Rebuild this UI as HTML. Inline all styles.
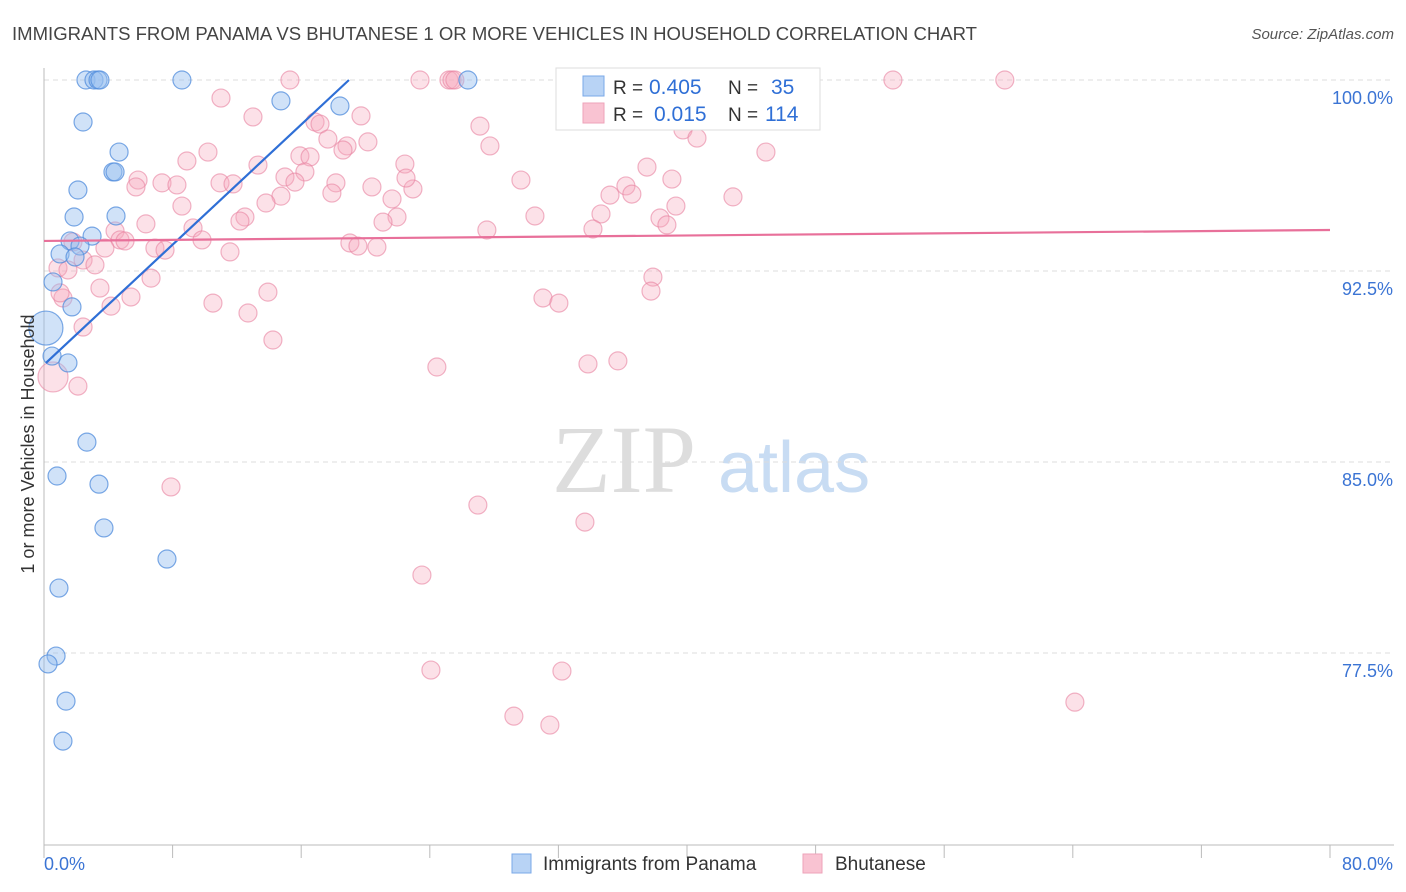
<!DOCTYPE html>
<html><head><meta charset="utf-8"><style>
body{margin:0;background:#fff;font-family:"Liberation Sans",sans-serif;}
svg{display:block}
</style></head><body>
<svg width="1406" height="892" viewBox="0 0 1406 892">
<text x="12" y="40" font-size="18" fill="#444" textLength="965" lengthAdjust="spacingAndGlyphs">IMMIGRANTS FROM PANAMA VS BHUTANESE 1 OR MORE VEHICLES IN HOUSEHOLD CORRELATION CHART</text>
<text x="1394" y="39" font-size="15" fill="#555" font-style="italic" text-anchor="end">Source: ZipAtlas.com</text>
<g>
<text x="552" y="492" font-size="96" font-family="Liberation Serif,serif" fill="#ddd">ZIP</text>
<text x="718" y="492" font-size="72" fill="#c8dcf3">atlas</text>
</g>
<g id="grid"></g>
<g id="axes"></g>
<g id="pink"></g>
<g id="blue"></g>
<g id="lines"></g>
<text x="12" y="0" font-size="18" fill="#333" transform="translate(34,456) rotate(-90)" text-anchor="middle">1 or more Vehicles in Household</text>
<g>
<rect x="556" y="68" width="264" height="62" fill="#fff" stroke="#ddd"/>
<rect x="583" y="76" width="21" height="20" fill="#b8d3f5" stroke="#7aa8e8"/>
<rect x="583" y="103" width="21" height="20" fill="#f9c3d2" stroke="#eea3b9"/>
<text x="613" y="94" font-size="19" fill="#333">R =</text>
<text x="649" y="94" font-size="21" fill="#2f6fd6">0.405</text>
<text x="728" y="94" font-size="19" fill="#333">N =</text>
<text x="771" y="94" font-size="21" fill="#2f6fd6">35</text>
<text x="613" y="121" font-size="19" fill="#333">R =</text>
<text x="654" y="121" font-size="21" fill="#2f6fd6">0.015</text>
<text x="728" y="121" font-size="19" fill="#333">N =</text>
<text x="765" y="121" font-size="21" fill="#2f6fd6">114</text>
</g>
<g>
<rect x="512" y="854" width="19" height="19" fill="#b8d3f5" stroke="#7aa8e8"/>
<text x="543" y="870" font-size="19" fill="#333">Immigrants from Panama</text>
<rect x="803" y="854" width="19" height="19" fill="#f9c3d2" stroke="#eea3b9"/>
<text x="835" y="870" font-size="19" fill="#333">Bhutanese</text>
</g>
</svg>
<script>
const yTicks=[100,92.5,85,77.5];
const yTickLabels=["100.0%","92.5%","85.0%","77.5%"];
const xTicks=[0,8,16,24,32,40,48,56,64,72,80];
const xTickLabels=["0.0%","80.0%"];
const blueX=[2.61,3.11,3.36,3.48,8.58,26.37,14.74,18.41,2.43,4.67,4.29,4.42,2.11,1.87,4.48,2.99,1.62,2.24,1.0,1.93,0.56,1.74,0.12,0.5,1.49,2.67,0.81,3.42,3.73,7.65,0.93,0.75,0.25,1.37,1.18];
const blueY=[100,100,100,100,100,100,99.18,98.98,98.35,97.17,96.39,96.39,95.68,94.62,94.66,93.87,93.68,93.48,93.17,93.05,92.07,91.09,90.26,89.16,88.89,85.78,84.45,84.13,82.41,81.19,80.05,77.38,77.07,75.61,74.04];
const blueBig=[22];
const pinkX=[15.3,23.39,25.19,25.38,25.56,32.66,34.58,36.14,44.04,44.66,52.81,59.77,11.01,13.0,19.72,16.86,17.17,17.66,18.85,18.6,20.15,10.2,8.89,13.31,15.92,16.55,22.45,16.23,14.99,15.61,18.16,17.91,20.4,22.95,21.65,21.96,21.09,5.85,5.72,7.34,8.27,10.95,11.76,8.58,14.74,13.81,12.5,12.19,6.34,4.42,9.27,9.83,4.73,5.04,3.79,6.9,7.53,11.57,19.03,19.53,20.71,1.8,2.43,0.87,1.49,3.17,3.48,1.18,1.0,5.41,4.17,6.66,10.51,13.93,12.69,14.24,2.43,0.56,2.11,27.12,27.74,29.67,30.54,31.04,32.03,34.65,34.15,35.21,36.2,36.57,37.51,39.06,38.32,38.75,39.31,39.75,40.62,44.91,42.86,37.88,37.76,33.84,35.7,22.52,27.55,24.44,26.99,33.65,23.51,24.07,32.22,29.23,31.47,64.13,7.9];
const pinkY=[100,100,100,100,100,100,100,100,100,100,100,100,99.29,98.55,98.59,98.35,98.27,97.68,97.41,97.25,97.57,97.17,96.82,96.66,97.02,96.98,96.7,96.39,96.19,95.99,95.96,95.56,95.8,95.72,95.33,94.62,94.42,96.07,95.8,95.96,95.88,95.96,95.92,95.05,95.44,95.17,94.62,94.46,94.35,94.07,94.19,93.72,93.72,93.68,93.4,93.4,93.32,93.25,93.6,93.48,93.44,93.64,92.93,92.62,92.54,92.74,91.83,91.44,91.64,91.48,91.12,92.22,91.24,91.67,90.85,89.79,90.3,88.34,87.98,98.19,97.41,96.07,94.66,91.44,91.24,94.74,94.15,95.48,95.84,95.52,96.58,96.11,94.58,94.31,95.05,98.04,97.72,97.17,95.41,92.26,91.71,88.85,88.97,96.15,94.11,88.73,83.31,82.64,80.56,76.83,76.79,75.02,74.67,75.57,84.02];
const pinkBig=[77];
const blueTrend=[[0.12,88.89],[18.97,100]];
const pinkTrend=[[0,93.68],[80,94.11]];

const NS="http://www.w3.org/2000/svg";
const X0=44,X1=1330,Y100=80,PXPER=191/7.5;
const sx=v=>X0+(v/80)*(X1-X0);
const sy=v=>Y100+(100-v)*PXPER;
function mk(tag,attrs,parent){const e=document.createElementNS(NS,tag);for(const k in attrs)e.setAttribute(k,attrs[k]);parent.appendChild(e);return e;}
const grid=document.getElementById('grid'),axes=document.getElementById('axes');
yTicks.forEach((t,i)=>{
 const l=mk('line',{x1:X0,x2:1394,y1:sy(t),y2:sy(t),stroke:'#ddd','stroke-dasharray':'5,4'},grid);
 
 
 const tx=mk('text',{x:1393,y:sy(t)+24,'font-size':18,fill:'#3b74d4','text-anchor':'end'},axes);
 tx.textContent=yTickLabels[i];
 
 
});
mk('line',{x1:X0,x2:X0,y1:68,y2:845,stroke:'#bbb'},axes);
mk('line',{x1:X0,x2:1394,y1:845,y2:845,stroke:'#bbb'},axes);
xTicks.forEach(t=>{
 const l=mk('line',{x1:sx(t),x2:sx(t),y1:845,y2:858,stroke:'#bbb'},axes);
 
 
});
const xl0=mk('text',{x:44,y:870,'font-size':18,fill:'#3b74d4'},axes);
xl0.textContent=xTickLabels[0];


const xl1=mk('text',{x:1393,y:870,'font-size':18,fill:'#3b74d4','text-anchor':'end'},axes);
xl1.textContent=xTickLabels[1];


const pg=document.getElementById('pink');
pinkX.forEach((v,i)=>{
 const c=mk('circle',{cx:sx(v),cy:sy(pinkY[i]),r:pinkBig.includes(i)?15:9,fill:'rgba(246,168,190,0.35)',stroke:'rgba(232,130,160,0.6)','stroke-width':1.2},pg);
 
 
});
const bg=document.getElementById('blue');
blueX.forEach((v,i)=>{
 const c=mk('circle',{cx:sx(v),cy:sy(blueY[i]),r:blueBig.includes(i)?17:9,fill:'rgba(150,190,240,0.45)',stroke:'rgba(80,140,220,0.75)','stroke-width':1.2},bg);
 
 
});
const lg=document.getElementById('lines');
const bl=mk('line',{x1:sx(blueTrend[0][0]),y1:sy(blueTrend[0][1]),x2:sx(blueTrend[1][0]),y2:sy(blueTrend[1][1]),stroke:'#2f6fd6','stroke-width':2.2},lg);


const pl=mk('line',{x1:sx(pinkTrend[0][0]),y1:sy(pinkTrend[0][1]),x2:sx(pinkTrend[1][0]),y2:sy(pinkTrend[1][1]),stroke:'#e8709a','stroke-width':2.2},lg);


</script>
</body></html>
